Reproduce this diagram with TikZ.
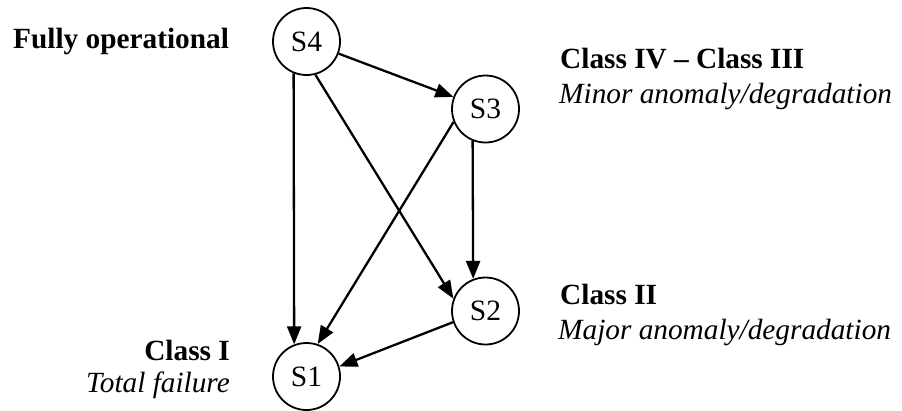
\documentclass[tikz,border=0pt]{standalone}
\usepackage{fontspec}
\setmainfont{Liberation Serif}
\usetikzlibrary{arrows.meta}
\begin{document}
\begin{tikzpicture}[x=1pt,y=-1pt,
  state/.style={circle,draw,line width=1.8pt,minimum size=67pt,inner sep=0pt,
    font=\fontsize{29.5}{35}\selectfont},
  link/.style={line width=2.3pt,-{Triangle[length=18pt,width=14pt]}},
  lbl/.style={inner sep=0pt,font=\fontsize{29.3}{35}\selectfont},
  head/.style={lbl,font=\fontsize{29.3}{35}\selectfont\bfseries},
  note/.style={lbl,font=\fontsize{29.3}{35}\selectfont\itshape}]
\useasboundingbox (0,0) rectangle (902,410);

% states
\node[state] (S4) at (306.5,41.5) {S4};
\node[state] (S3) at (485.5,109) {S3};
\node[state] (S2) at (485.5,311) {S2};
\node[state] (S1) at (306.5,376.5) {S1};

% transitions
\draw[link] (S4) -- (S3);
\draw[link] (S4.248.4) -- (S1.111.6);
\draw[link] (S4.-75) -- (S2.159);
\draw[link] (S3.202) -- (S1.71.6);
\draw[link] (S3.248.4) -- (S2.111.6);
\draw[link] (S2.199) -- (S1.17);

% class labels
\node[head,anchor=base west] (full) at (13,48) {Fully operational};
\node[head,anchor=base west] (c43) at (560,68) {Class IV – Class III};
\node[note,anchor=base west] (minor) at (559,103) {Minor anomaly/degradation};
\node[head,anchor=base west] (c2) at (560,304) {Class II};
\node[note,anchor=base west] (major) at (558,339) {Major anomaly/degradation};
\node[head,anchor=base east] (c1) at (230,360) {Class I};
\node[note,anchor=base east] (total) at (230,392) {Total failure};
\end{tikzpicture}
\end{document}
